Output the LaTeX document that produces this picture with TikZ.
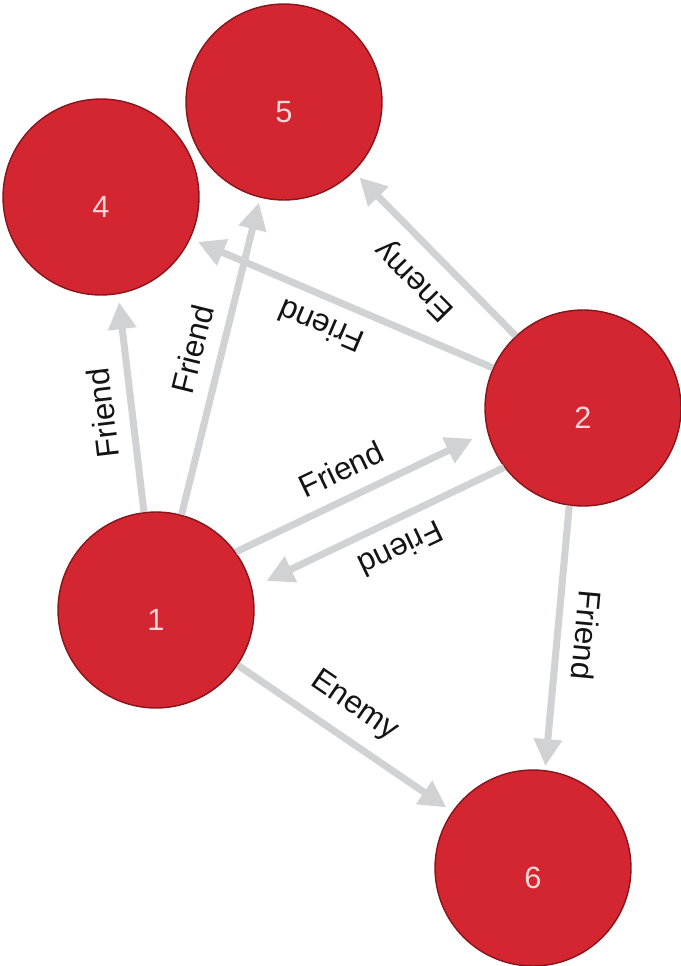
\documentclass[tikz,border=0pt]{standalone}
\usepackage{fontspec}
\setmainfont{Liberation Sans}
\usetikzlibrary{arrows.meta}
\definecolor{nodered}{RGB}{211,38,48}
\definecolor{nodeborder}{RGB}{135,22,28}
\definecolor{edgegray}{RGB}{208,210,211}
\definecolor{digitcol}{RGB}{246,216,216}
\definecolor{labelcol}{RGB}{20,20,20}
\tikzset{
  vertex/.style={circle, fill=nodered, draw=nodeborder, line width=0.8pt,
    minimum size=3.92cm, inner sep=0pt},
  digitlbl/.style={text=digitcol, font=\fontsize{17.5}{20}\selectfont, yshift=-0.2cm, inner sep=0pt},
  edgeline/.style={draw=edgegray, line width=4pt,
    -{Triangle[length=0.54cm,width=0.54cm]}},
  elabel/.style={sloped, allow upside down, above, text=labelcol,
    font=\fontsize{18}{20}\selectfont, inner xsep=2pt, inner ysep=8pt}
}
\begin{document}
\begin{tikzpicture}[x=0.02cm, y=-0.02cm]
\useasboundingbox (0,0) rectangle (680,966);
\node[vertex, label={[digitlbl]center:1}] (n1) at (156,610) {};
\node[vertex, label={[digitlbl]center:2}] (n2) at (583,408) {};
\node[vertex, label={[digitlbl]center:4}] (n4) at (101,197) {};
\node[vertex, label={[digitlbl]center:5}] (n5) at (284,102) {};
\node[vertex, label={[digitlbl]center:6}] (n6) at (533,868) {};

\draw[edgeline, shorten >=0.16cm] (n1.97.6) -- node[elabel, pos=0.47] {Friend} (n4.-80.8);
\draw[edgeline, shorten >=0.10cm] (n1.75.1) -- node[elabel, pos=0.5] {Friend} (n5.-104.6);
\draw[edgeline, shorten >=0.16cm] (n2.156.7) -- node[elabel, pos=0.53] {Friend} (n4.-25.1);
\draw[edgeline, shorten >=0.16cm] (n2.133.8) -- node[elabel, pos=0.48] {Enemy} (n5.-45.8);
\draw[edgeline, shorten >=0.32cm] (n1.36.9) -- node[elabel, pos=0.47] {Friend} (n2.194.8);
\draw[edgeline, shorten >=0.32cm] (n2.217.4) -- node[elabel, pos=0.46] {Friend} (n1.13.7);
\draw[edgeline, shorten >=0.08cm] (n2.262.7) -- node[elabel, pos=0.48] {Friend} (n6.83.2);
\draw[edgeline, shorten >=0.14cm] (n1.-34.6) -- node[elabel, pos=0.46] {Enemy} (n6.145.1);
\end{tikzpicture}
\end{document}
